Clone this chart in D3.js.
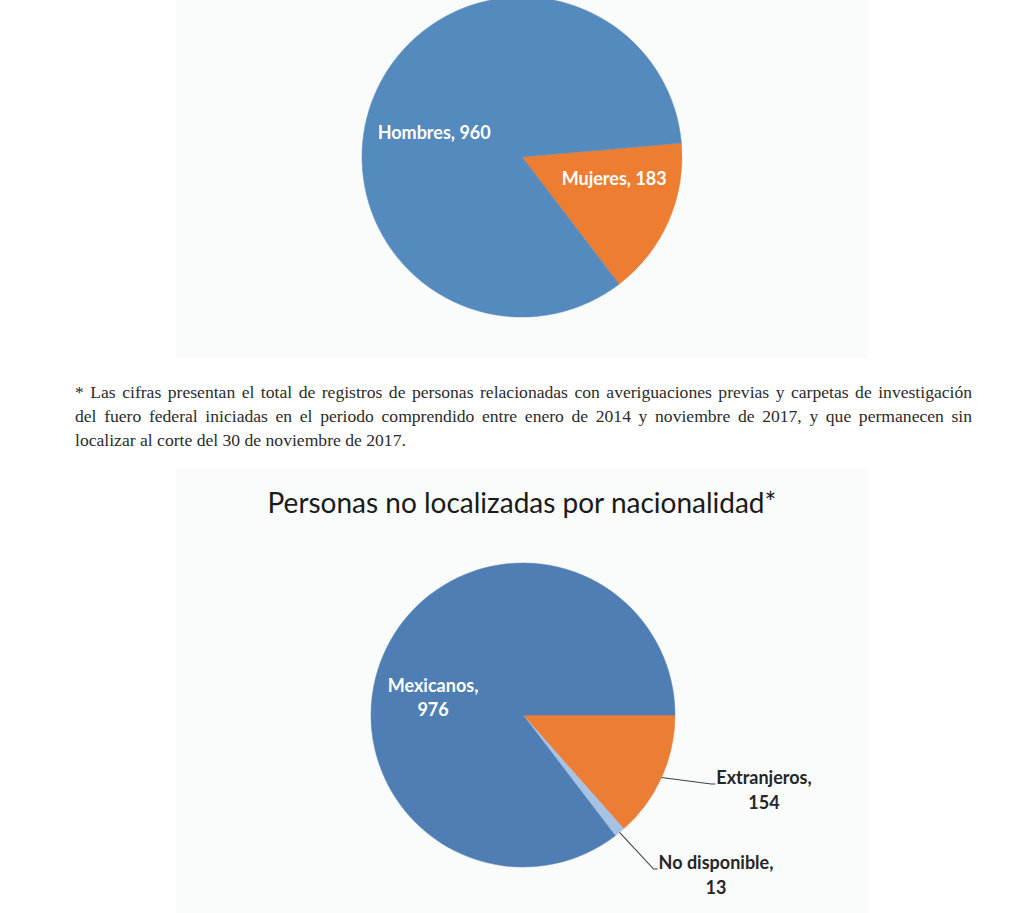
<!DOCTYPE html>
<html>
<head>
<meta charset="utf-8">
<script src="https://cdn.jsdelivr.net/npm/d3@7"></script>
<style>
  body { margin: 0; background: #fff; width: 1033px; height: 913px; overflow: hidden; position: relative; }
  svg { position: absolute; left: 0; top: 0; }
  .nota {
    position: absolute; left: 75px; top: 381px; width: 815.5px;
    transform: scaleX(1.1); transform-origin: 0 0;
    font-family: "Liberation Serif", "Times New Roman", serif;
    font-size: 16px; line-height: 24px; color: #2b2b2b;
  }
  .nota div { text-align: justify; text-align-last: justify; white-space: nowrap; }
  .nota div.last { text-align-last: left; }
</style>
</head>
<body>
<svg id="chart" width="1033" height="913"></svg>
<div class="nota">
  <div>* Las cifras presentan el total de registros de personas relacionadas con averiguaciones previas y carpetas de investigación</div>
  <div>del fuero federal iniciadas en el periodo comprendido entre enero de 2014 y noviembre de 2017, y que permanecen sin</div>
  <div class="last">localizar al corte del 30 de noviembre de 2017.</div>
</div>
<script>
// datos
const sexoCats = ['Mujeres', 'Hombres'];
const sexoVals = [183, 960];
const sexoColors = ['#ED7D31', '#558ABE'];

const nacTitle = 'Personas no localizadas por nacionalidad*';
const nacCats = ['Extranjeros', 'No disponible', 'Mexicanos'];
const nacVals = [154, 13, 976];
const nacColors = ['#EB7E34', '#A7C3E3', '#4E7EB4'];

const svg = d3.select('#chart');
const labelFont = 'Lato, "Noto Sans", sans-serif';
const labelFS = '18px';

// paneles de fondo
svg.append('rect').attr('x', 176).attr('y', 0).attr('width', 692).attr('height', 358).attr('fill', '#fafbfb');
svg.append('rect').attr('x', 176).attr('y', 469).attr('width', 692).attr('height', 444).attr('fill', '#fafbfb');

function drawPie(cfg) {
  const g = svg.append('g').attr('transform', `translate(${cfg.cx},${cfg.cy})`);
  const pie = d3.pie().sort(null).value((d) => d.value)
    .startAngle(cfg.start).endAngle(cfg.start + 2 * Math.PI);
  const arc = d3.arc().innerRadius(0).outerRadius(cfg.r);
  const data = cfg.cats.map((c, i) => ({ label: c, value: cfg.vals[i], color: cfg.colors[i] }));
  const arcs = pie(data);

  g.selectAll('path.slice')
    .data(arcs)
    .join('path')
    .attr('class', 'slice')
    .attr('d', arc)
    .attr('fill', (d) => d.data.color)
    .attr('stroke', (d) => d.data.color)
    .attr('stroke-width', 0.5);

  arcs.forEach((d) => {
    const lab = cfg.labels[d.data.label];
    const mid = (d.startAngle + d.endAngle) / 2;
    if (lab.inside) {
      const x = Math.sin(mid) * cfg.r * lab.k;
      const y = -Math.cos(mid) * cfg.r * lab.k * lab.sy;
      const t = g.append('text')
        .attr('x', x).attr('y', y)
        .attr('text-anchor', 'middle')
        .style('font-family', labelFont)
        .style('font-weight', 'bold')
        .style('font-size', labelFS)
        .style('fill', '#fff');
      lab.lines.forEach((ln, i) => {
        t.append('tspan').attr('x', x)
          .attr('dy', i === 0 ? (0.35 - (lab.lines.length - 1) * 0.65) + 'em' : '1.33em')
          .text(ln.replace('{v}', d.data.value));
      });
    } else {
      // etiqueta exterior con linea guia
      const t = g.append('text')
        .attr('x', lab.dx).attr('y', lab.dy)
        .attr('text-anchor', 'middle')
        .style('font-family', labelFont)
        .style('font-weight', 'bold')
        .style('font-size', labelFS)
        .style('fill', '#262626');
      lab.lines.forEach((ln, i) => {
        t.append('tspan').attr('x', lab.dx)
          .attr('dy', i === 0 ? '-0.33em' : '1.38em')
          .text(ln.replace('{v}', d.data.value));
      });
      const w = t.select('tspan').node().getComputedTextLength();
      const left = lab.dx - w / 2;
      const ly = lab.dy - 6;
      const p0 = [Math.sin(mid) * cfg.r, -Math.cos(mid) * cfg.r];
      g.append('path')
        .attr('d', d3.line()([p0, [left - 5, ly], [left - 1, ly]]))
        .attr('fill', 'none')
        .attr('stroke', '#404040')
        .attr('stroke-width', 1.1);
    }
  });
}

drawPie({
  cx: 522, cy: 157, r: 160,
  start: 85 * Math.PI / 180,
  cats: sexoCats, vals: sexoVals, colors: sexoColors,
  labels: {
    'Mujeres': { inside: true, k: 0.63, sy: 0.54, lines: ['Mujeres, {v}'] },
    'Hombres': { inside: true, k: 0.6, sy: 0.63, lines: ['Hombres, {v}'] }
  }
});

svg.append('text')
  .attr('x', 522).attr('y', 513)
  .attr('text-anchor', 'middle')
  .style('font-family', labelFont)
  .style('font-size', '28px')
  .style('fill', '#1a1a1a')
  .text(nacTitle);

drawPie({
  cx: 523, cy: 715, r: 152,
  start: Math.PI / 2,
  cats: nacCats, vals: nacVals, colors: nacColors,
  labels: {
    'Extranjeros': { inside: false, dx: 241, dy: 75, lines: ['Extranjeros,', '{v}'] },
    'No disponible': { inside: false, dx: 193, dy: 160, lines: ['No disponible,', '{v}'] },
    'Mexicanos': { inside: true, k: 0.66, sy: 0.395, lines: ['Mexicanos,', '{v}'] }
  }
});
</script>
</body>
</html>
